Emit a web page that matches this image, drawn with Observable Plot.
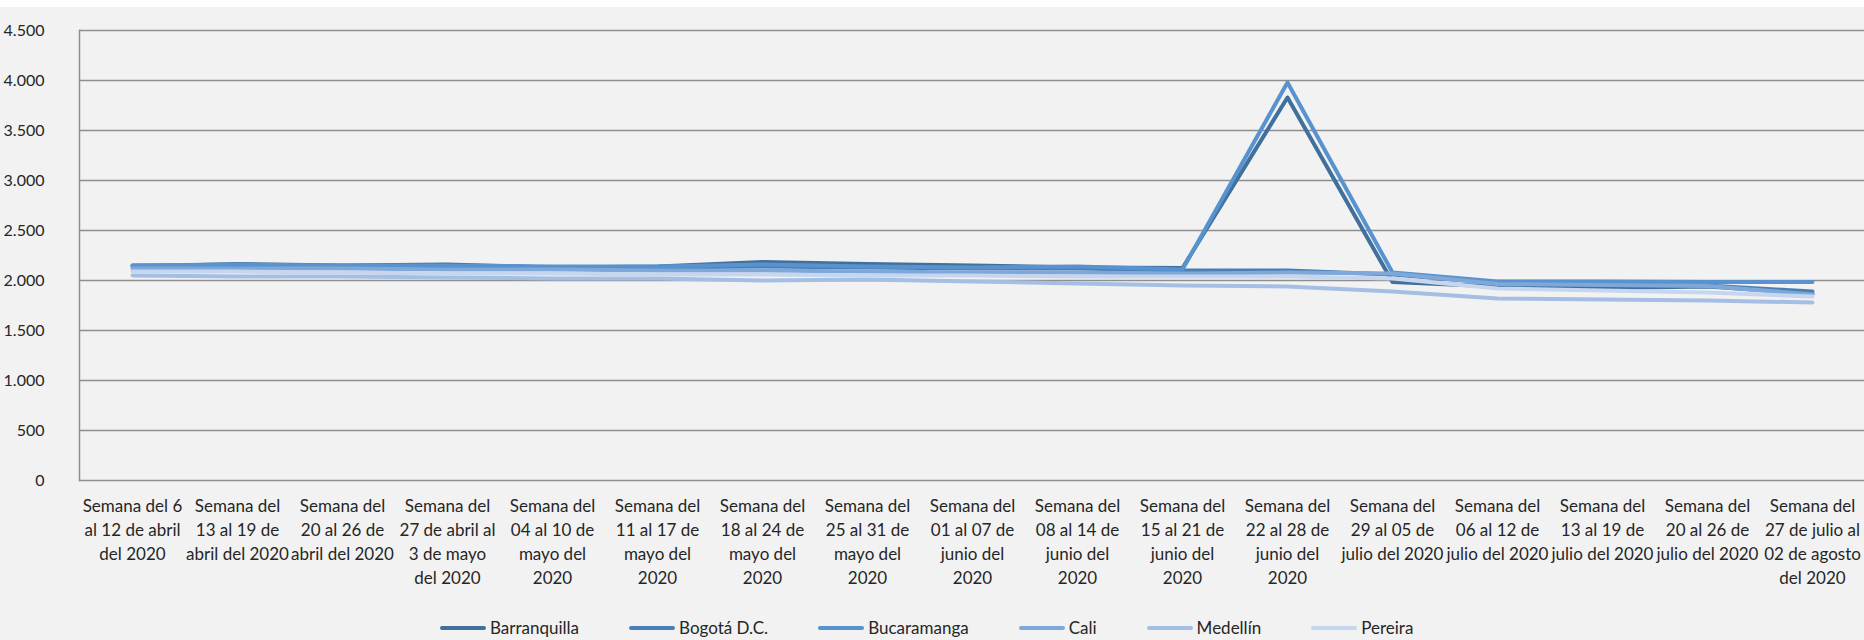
<!DOCTYPE html>
<html>
<head>
<meta charset="utf-8">
<script src="https://cdn.jsdelivr.net/npm/d3@7"></script>
<script src="https://cdn.jsdelivr.net/npm/@observablehq/plot@0.6"></script>
<style>
  html, body { margin: 0; padding: 0; background: #ffffff; }
  #wrap { position: absolute; left: 0; top: 7px; width: 1864px; height: 633px; background: #f2f2f2; overflow: hidden; font-family: Lato, "Open Sans", sans-serif; }
  #chart { position: absolute; left: 0; top: 0; }
  #legend { position: absolute; left: 440px; top: 610px; display: flex; gap: 50px; align-items: center; font-size: 17px; color: #262626; white-space: nowrap; }
  .item { display: flex; align-items: center; gap: 4px; }
  .sw { width: 46px; height: 4px; border-radius: 2px; }
</style>
</head>
<body>
<div id="wrap">
  <div id="chart"></div>
  <div id="legend"></div>
</div>
<script>
const categories = [
  "Semana del 6\nal 12 de abril\ndel 2020",
  "Semana del\n13 al 19 de\nabril del 2020",
  "Semana del\n20 al 26 de\nabril del 2020",
  "Semana del\n27 de abril al\n3 de mayo\ndel 2020",
  "Semana del\n04 al 10 de\nmayo del\n2020",
  "Semana del\n11 al 17 de\nmayo del\n2020",
  "Semana del\n18 al 24 de\nmayo del\n2020",
  "Semana del\n25 al 31 de\nmayo del\n2020",
  "Semana del\n01 al 07 de\njunio del\n2020",
  "Semana del\n08 al 14 de\njunio del\n2020",
  "Semana del\n15 al 21 de\njunio del\n2020",
  "Semana del\n22 al 28 de\njunio del\n2020",
  "Semana del\n29 al 05 de\njulio del 2020",
  "Semana del\n06 al 12 de\njulio del 2020",
  "Semana del\n13 al 19 de\njulio del 2020",
  "Semana del\n20 al 26 de\njulio del 2020",
  "Semana del\n27 de julio al\n02 de agosto\ndel 2020"
];
const cities = ["Barranquilla", "Bogotá D.C.", "Bucaramanga", "Cali", "Medellín", "Pereira"];
const barranquilla = [2140, 2165, 2150, 2160, 2130, 2140, 2185, 2165, 2150, 2130, 2125, 3830, 1985, 1940, 1925, 1940, 1870];
const bogota       = [2150, 2150, 2140, 2130, 2130, 2130, 2140, 2130, 2120, 2120, 2100, 2100, 2060, 1975, 1960, 1950, 1890];
const bucaramanga  = [2150, 2160, 2150, 2150, 2140, 2140, 2160, 2140, 2130, 2140, 2110, 3980, 2080, 1990, 1990, 1985, 1985];
const cali         = [2120, 2120, 2120, 2110, 2110, 2100, 2100, 2090, 2080, 2080, 2070, 2080, 2070, 1965, 1955, 1945, 1860];
const medellin     = [2050, 2040, 2040, 2030, 2020, 2020, 2000, 2010, 1990, 1970, 1950, 1940, 1890, 1820, 1810, 1800, 1780];
const pereira      = [2090, 2090, 2080, 2070, 2070, 2060, 2060, 2050, 2050, 2040, 2040, 2040, 2020, 1920, 1900, 1880, 1840];
const seriesValues = [barranquilla, bogota, bucaramanga, cali, medellin, pereira];
const colors = ["#41709d", "#4a7fb6", "#5893cf", "#7ea8da", "#a4bfe3", "#c6d6ee"];
const yTicks = [0, 500, 1000, 1500, 2000, 2500, 3000, 3500, 4000, 4500];

const rows = cities.flatMap((city, k) => seriesValues[k].map((v, i) => ({cat: categories[i], city, v})));
const fmt = v => d3.format(",")(v).replace(/,/g, ".");

const chart = Plot.plot({
  width: 1864,
  height: 593,
  marginLeft: 79,
  marginRight: 0,
  marginTop: 23,
  marginBottom: 120,
  style: {background: "transparent", fontFamily: "Lato, 'Open Sans', sans-serif", fontSize: "17px", color: "#262626"},
  x: {type: "point", domain: categories, padding: 0.5, label: null},
  y: {domain: [0, 4500], label: null},
  marks: [
    Plot.ruleY(yTicks, {stroke: "#8e8e8e", strokeWidth: 1.5}),
    Plot.frame({anchor: "left", stroke: "#8e8e8e", strokeWidth: 1.5}),
    Plot.axisY({ticks: yTicks, tickSize: 0, tickPadding: 35, tickFormat: fmt, fontSize: 16, label: null}),
    Plot.axisX({tickSize: 0, tickPadding: 15, tickFormat: d => d, lineHeight: 1.4, fontSize: 17, label: null}),
    ...cities.map((city, k) => Plot.line(rows.filter(d => d.city === city), {x: "cat", y: "v", stroke: colors[k], strokeWidth: 4}))
  ]
});
document.getElementById("chart").appendChild(chart);

const legend = document.getElementById("legend");
cities.forEach((city, k) => {
  const it = document.createElement("div");
  it.className = "item";
  const sw = document.createElement("div");
  sw.className = "sw";
  sw.style.background = colors[k];
  const t = document.createElement("span");
  t.textContent = city;
  it.appendChild(sw);
  it.appendChild(t);
  legend.appendChild(it);
});
</script>
</body>
</html>
